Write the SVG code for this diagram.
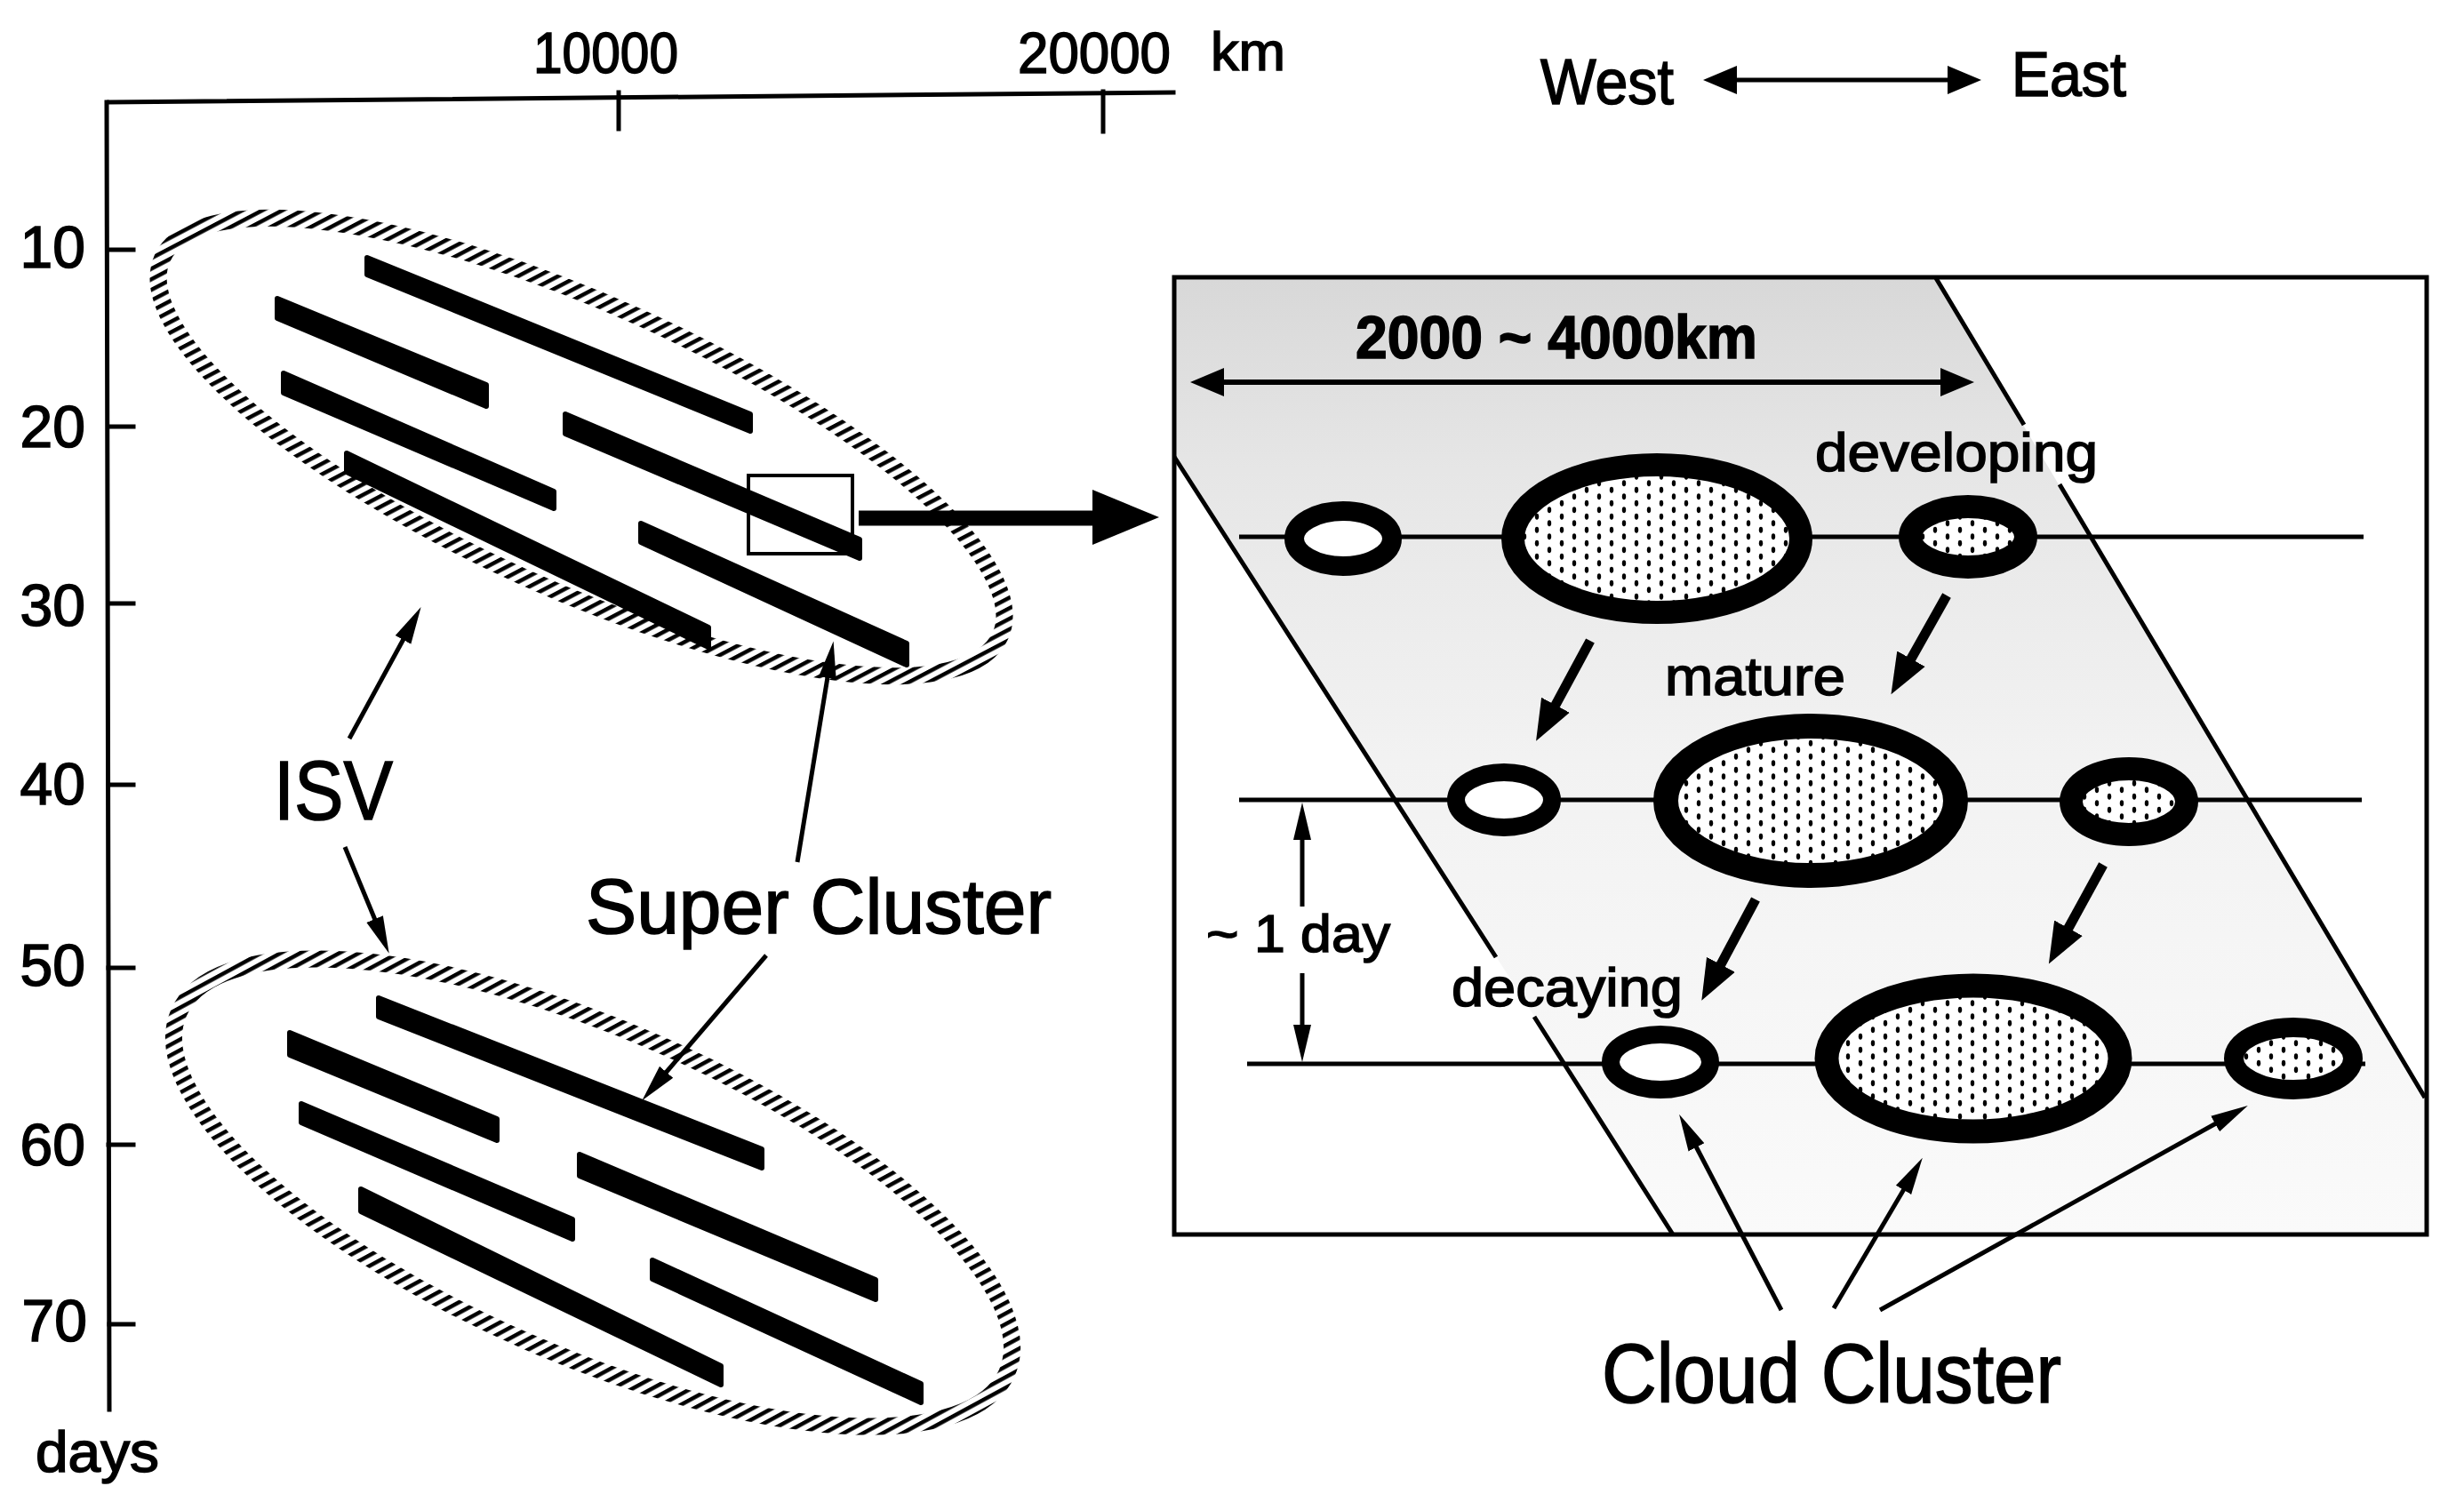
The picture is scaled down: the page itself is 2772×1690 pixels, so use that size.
<svg xmlns="http://www.w3.org/2000/svg" width="2772" height="1690" viewBox="0 0 2772 1690">
<defs>
<style>
.t{font-family:"Liberation Sans",Arial,sans-serif;fill:#000;stroke:#000;stroke-width:1.6}
.ax{stroke:#000;stroke-width:5;fill:none;stroke-linecap:square}
.bar{fill:#000;stroke:#000;stroke-width:6;stroke-linejoin:round}
.ring{stroke:#000}
.thin{stroke:#000;stroke-width:5;fill:none}
.thick{stroke:#000;stroke-width:11;fill:none}
.hl{stroke:#000;stroke-width:5;fill:none}
</style>
<pattern id="hatch" patternUnits="userSpaceOnUse" width="10.5" height="10.5" patternTransform="rotate(38)">
<rect x="0" y="0" width="4.5" height="10.5" fill="#000"/>
</pattern>
<pattern id="dots" patternUnits="userSpaceOnUse" width="28" height="15">
<rect width="28" height="15" fill="#fff"/>
<ellipse cx="7" cy="3.75" rx="2.2" ry="3.4" fill="#000"/>
<ellipse cx="21" cy="11.25" rx="2.2" ry="3.4" fill="#000"/>
</pattern>
<linearGradient id="shade" x1="0" y1="313" x2="0" y2="1389" gradientUnits="userSpaceOnUse">
<stop offset="0" stop-color="#d8d8d8"/>
<stop offset="0.2" stop-color="#e6e6e6"/>
<stop offset="0.5" stop-color="#f2f2f2"/>
<stop offset="1" stop-color="#fafafa"/>
</linearGradient>
<marker id="ahThin" markerUnits="userSpaceOnUse" markerWidth="44" markerHeight="24" viewBox="0 -12 44 24" refX="1" refY="0" orient="auto">
<path d="M0,-10 L42,0 L0,10 z" fill="#000"/>
</marker>
<marker id="ahThick" markerUnits="userSpaceOnUse" markerWidth="50" markerHeight="40" viewBox="0 -20 50 40" refX="2" refY="0" orient="auto">
<path d="M0,-18 L46,0 L0,18 z" fill="#000"/>
</marker>
<marker id="ahDbl" markerUnits="userSpaceOnUse" markerWidth="42" markerHeight="36" viewBox="0 -18 42 36" refX="2" refY="0" orient="auto-start-reverse">
<path d="M0,-16 L38,0 L0,16 z" fill="#000"/>
</marker>
</defs>
<rect width="2772" height="1690" fill="#fff"/>

<g id="axes">
<path class="ax" d="M123,115 L1320,104"/>
<path class="ax" d="M120,115 L123,1586"/>
<path class="ax" d="M696,104 L696,145"/>
<path class="ax" d="M1241,103 L1241,148"/>
<path class="ax" d="M122,281 L150,281 M122,480 L150,480 M122,679 L150,679 M122,883 L150,883 M122,1089 L150,1089 M122,1288 L150,1288 M123,1490 L150,1490"/>
<text class="t" x="600" y="82" font-size="64" textLength="163" lengthAdjust="spacingAndGlyphs">10000</text>
<text class="t" x="1145" y="82" font-size="64" textLength="172" lengthAdjust="spacingAndGlyphs">20000</text>
<text class="t" x="1362" y="79" font-size="62" textLength="84" lengthAdjust="spacingAndGlyphs">km</text>
<g class="t" font-size="66" text-anchor="end">
<text x="96" y="301">10</text>
<text x="96" y="503">20</text>
<text x="96" y="704">30</text>
<text x="96" y="905">40</text>
<text x="96" y="1109">50</text>
<text x="96" y="1311">60</text>
<text x="98" y="1509">70</text>
</g>
<text class="t" x="40" y="1656" font-size="64" textLength="139" lengthAdjust="spacingAndGlyphs">days</text>
</g>

<g id="isv-top">
<ellipse cx="654" cy="503" rx="517" ry="160" transform="rotate(24.25 654 503)" fill="none" stroke="url(#hatch)" stroke-width="19"/>
<polygon class="bar" points="413,290 844,466 844,485 413,309"/>
<polygon class="bar" points="312,336 547,433 547,457 312,358"/>
<polygon class="bar" points="319,420 623,553 623,572 319,442"/>
<polygon class="bar" points="636,466 967,607 967,628 636,488"/>
<polygon class="bar" points="390,510 797,706 797,728 390,531"/>
<polygon class="bar" points="721,589 1020,724 1020,748 721,610"/>
<rect x="842" y="535" width="117" height="88" fill="none" stroke="#000" stroke-width="4"/>
</g>

<g id="isv-bottom">
<ellipse cx="667" cy="1342" rx="508" ry="183" transform="rotate(23.5 667 1342)" fill="none" stroke="url(#hatch)" stroke-width="19"/>
<polygon class="bar" points="426,1123 857,1293 857,1314 426,1144"/>
<polygon class="bar" points="326,1162 559,1259 559,1283 326,1187"/>
<polygon class="bar" points="339,1242 644,1372 644,1394 339,1263"/>
<polygon class="bar" points="652,1299 985,1440 985,1462 652,1323"/>
<polygon class="bar" points="406,1338 811,1537 811,1558 406,1363"/>
<polygon class="bar" points="734,1418 1036,1557 1036,1578 734,1439"/>
</g>

<g id="label-isv"><text class="t" x="308" y="922" font-size="94" textLength="134" lengthAdjust="spacingAndGlyphs">ISV</text></g>
<g id="label-super"><text class="t" x="659" y="1050" font-size="87" textLength="524" lengthAdjust="spacingAndGlyphs">Super Cluster</text></g>

<g id="direction">
<text class="t" x="1733" y="117" font-size="72" textLength="150" lengthAdjust="spacingAndGlyphs">West</text>
<text class="t" x="2263" y="108" font-size="70" textLength="129" lengthAdjust="spacingAndGlyphs">East</text>
<line x1="1952" y1="90" x2="2193" y2="90" stroke="#000" stroke-width="5" marker-start="url(#ahDbl)" marker-end="url(#ahDbl)"/>
</g>

<g id="panel">
<polygon points="1323,314 2178,314 2728,1235 2728,1387 1882,1387 1323,514" fill="url(#shade)"/>
<rect x="1321" y="312" width="1409" height="1077" fill="none" stroke="#000" stroke-width="5"/>
<path class="thin" d="M1321,514 L1683,1077 M1726,1144 L1882,1389"/>
<path class="thin" d="M2178,313 L2277,478 M2317,545 L2728,1235"/>
<path class="hl" d="M1394,604 L2659,604"/>
<path class="hl" d="M1394,900 L2657,900"/>
<path class="hl" d="M1403,1197 L2661,1197"/>
<text class="t" x="1525" y="403" font-size="68" font-weight="bold" textLength="452" lengthAdjust="spacingAndGlyphs">2000 ~ 4000km</text>
<line x1="1375" y1="430" x2="2185" y2="430" stroke="#000" stroke-width="6" marker-start="url(#ahDbl)" marker-end="url(#ahDbl)"/>
<text class="t" x="2042" y="530" font-size="62" textLength="318" lengthAdjust="spacingAndGlyphs">developing</text>
<text class="t" x="1873" y="782" font-size="62" textLength="203" lengthAdjust="spacingAndGlyphs">mature</text>
<text class="t" x="1633" y="1132" font-size="62" textLength="260" lengthAdjust="spacingAndGlyphs">decaying</text>
<text class="t" x="1357" y="1071" font-size="60" textLength="207" lengthAdjust="spacingAndGlyphs">~ 1 day</text>
</g>

<g id="cc-r1-left"><ellipse class="ring" cx="1511" cy="606" rx="55" ry="31" fill="#fff" stroke-width="22"/></g>
<g id="cc-r1-big"><ellipse class="ring" cx="1864" cy="606" rx="162" ry="83" fill="url(#dots)" stroke-width="26"/></g>
<g id="cc-r1-right"><ellipse class="ring" cx="2214" cy="604" rx="65" ry="34" fill="url(#dots)" stroke-width="26"/></g>
<g id="cc-r2-left"><ellipse class="ring" cx="1692" cy="900" rx="54" ry="31" fill="#fff" stroke-width="20"/></g>
<g id="cc-r2-big"><ellipse class="ring" cx="2037" cy="901" rx="163" ry="84" fill="url(#dots)" stroke-width="28"/></g>
<g id="cc-r2-right"><ellipse class="ring" cx="2395" cy="902" rx="65" ry="37" fill="url(#dots)" stroke-width="26"/></g>
<g id="cc-r3-left"><ellipse class="ring" cx="1868" cy="1195" rx="56" ry="31" fill="#fff" stroke-width="20"/></g>
<g id="cc-r3-big"><ellipse class="ring" cx="2220" cy="1191" rx="165" ry="82" fill="url(#dots)" stroke-width="27"/></g>
<g id="cc-r3-right"><ellipse class="ring" cx="2580" cy="1191" rx="67" ry="35" fill="url(#dots)" stroke-width="22"/></g>

<g id="label-cloud"><text class="t" x="1802" y="1578" font-size="94" textLength="517" lengthAdjust="spacingAndGlyphs">Cloud Cluster</text></g>

<g id="connectors">
<path d="M966,583 L1232,583" stroke="#000" stroke-width="17" fill="none"/>
<polygon points="1229,551 1304,582 1229,613" fill="#000"/>
<line class="thin" x1="393" y1="831" x2="454" y2="719" marker-end="url(#ahThin)"/>
<line class="thin" x1="388" y1="953" x2="422" y2="1035" marker-end="url(#ahThin)"/>
<line class="thin" x1="897" y1="970" x2="931" y2="762" marker-end="url(#ahThin)"/>
<line class="thin" x1="862" y1="1075" x2="749" y2="1207" marker-end="url(#ahThin)"/>
<line class="thin" x1="1465" y1="1020" x2="1465" y2="944" marker-end="url(#ahThin)"/>
<line class="thin" x1="1465" y1="1095" x2="1465" y2="1154" marker-end="url(#ahThin)"/>
<line class="thick" x1="1789" y1="721" x2="1749" y2="795" marker-end="url(#ahThick)"/>
<line class="thick" x1="2190" y1="670" x2="2149" y2="743" marker-end="url(#ahThick)"/>
<line class="thick" x1="1975" y1="1012" x2="1935" y2="1087" marker-end="url(#ahThick)"/>
<line class="thick" x1="2366" y1="973" x2="2326" y2="1046" marker-end="url(#ahThick)"/>
<line class="thin" x1="2004" y1="1474" x2="1908" y2="1290" marker-end="url(#ahThin)"/>
<line class="thin" x1="2063" y1="1472" x2="2142" y2="1338" marker-end="url(#ahThin)"/>
<line class="thin" x1="2115" y1="1474" x2="2493" y2="1264" marker-end="url(#ahThin)"/>
</g>
</svg>
